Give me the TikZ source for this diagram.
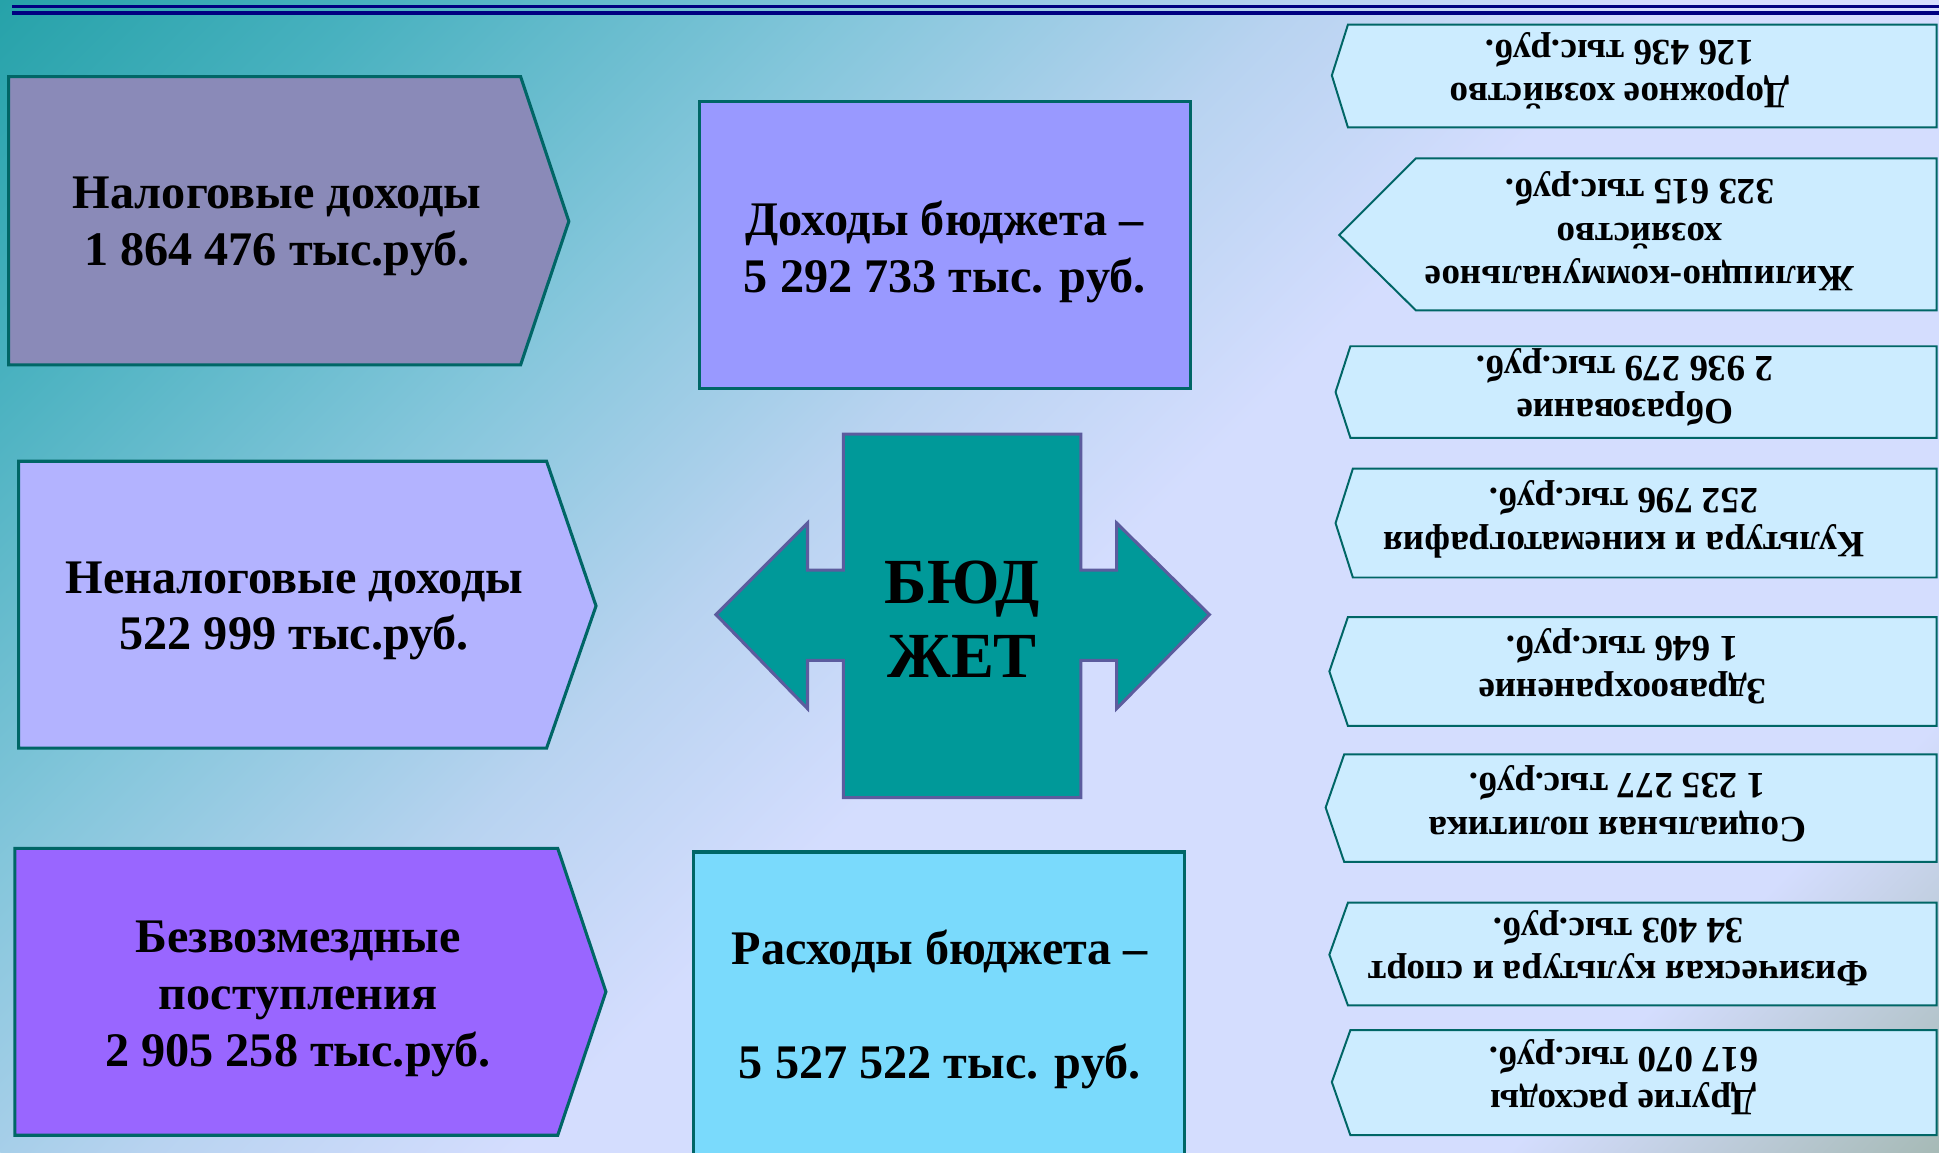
\documentclass[tikz,border=0pt]{standalone}
\usepackage{fontspec}
\setmainfont{Liberation Serif}
\usepackage{tikz}

\definecolor{bgteal}{HTML}{26A2A9}
\definecolor{bgA}{HTML}{48B1BF}
\definecolor{bgB}{HTML}{84C6DB}
\definecolor{bgC}{HTML}{B8D3F0}
\definecolor{bglav}{HTML}{D4DDFE}
\definecolor{bggray}{HTML}{A6BAB6}
\definecolor{navyline}{HTML}{000080}
\definecolor{edgeteal}{HTML}{006666}
\definecolor{taxfill}{HTML}{8A8AB8}
\definecolor{nontaxfill}{HTML}{B3B3FF}
\definecolor{grantfill}{HTML}{9966FF}
\definecolor{incomefill}{HTML}{9999FF}
\definecolor{costfill}{HTML}{7ADAFC}
\definecolor{crossfill}{HTML}{009999}
\definecolor{crossline}{HTML}{5C5C9E}
\definecolor{rightfill}{HTML}{CCECFF}

\pgfdeclarehorizontalshading{bgshade}{100bp}{color(0bp)=(bgteal); color(25bp)=(bgteal);
  color(31bp)=(bgA); color(39bp)=(bgB); color(46bp)=(bgC); color(52bp)=(bglav);
  color(68bp)=(bglav); color(75bp)=(bggray); color(100bp)=(bggray)}

\begin{document}
\begin{tikzpicture}[x=1pt,y=-1pt,line join=miter,
    big text/.style={font=\bfseries\fontsize{39}{46}\selectfont,align=center},
    small text/.style={font=\bfseries\fontsize{30}{35}\selectfont,align=center,rotate=180},
    left box/.style={draw=edgeteal,line width=2.5pt},
    right box/.style={draw=edgeteal,line width=1.6pt,fill=rightfill}]

  \useasboundingbox (0,0) rectangle (1568,932);
  % background
  \begin{scope}
    \clip (0,0) rectangle (1568,932);
    \begin{scope}[transform canvas={rotate=-45}]
      \shade[shading=bgshade] (0,-1109) rectangle (1768,659);
    \end{scope}
  \end{scope}

  \draw[navyline,line width=2.5pt] (10,5) -- (1568,5);
  \draw[navyline,line width=3pt] (10,10.5) -- (1568,10.5);

  % revenues
  \draw[left box,fill=taxfill] (7,62) -- (421,62) -- (460,179) -- (421,295) -- (7,295) -- cycle;
  \node[big text] (tax) at (224,183) {Налоговые доходы\\1 864 476 тыс.руб.};

  \draw[left box,fill=nontaxfill] (15,373) -- (442,373) -- (482,490) -- (442,605) -- (15,605) -- cycle;
  \node[big text] (nontax) at (238,494) {Неналоговые доходы\\522 999 тыс.руб.};

  \draw[left box,fill=grantfill] (12,686) -- (451,686) -- (490,802) -- (451,918) -- (12,918) -- cycle;
  \node[big text] (grants) at (241,808) {Безвозмездные\\поступления\\2 905 258 тыс.руб.};

  \draw[left box,fill=incomefill] (566,82) rectangle (963,314);
  \node[big text] (income) at (764,204) {Доходы бюджета –\\5 292 733 тыс. руб.};

  \draw[left box,fill=costfill] (561,689) rectangle (958,945);
  \node[big text] (costs) at (760,816) {Расходы бюджета –\\[46pt]5 527 522 тыс. руб.};

  % budget
  \draw[crossline,line width=2.5pt,fill=crossfill] (682,351) -- (874,351) -- (874,461) -- (903,461)
    -- (903,423) -- (978,497) -- (903,573) -- (903,534) -- (874,534) -- (874,645) -- (682,645)
    -- (682,534) -- (653,534) -- (653,573) -- (579,497) -- (653,423) -- (653,461) -- (682,461) -- cycle;
  \node[font=\bfseries\fontsize{52}{60}\selectfont,align=center] (budget) at (778,501) {БЮД\\ЖЕТ};

  % expenses
  \draw[right box] (1566,20) -- (1090,20) -- (1077,61) -- (1090,103) -- (1566,103) -- cycle;
  \node[small text] (roads) at (1310,57) {Дорожное хозяйство\\126 436 тыс.руб.};

  \draw[right box] (1566,128) -- (1145,128) -- (1083,190) -- (1145,251) -- (1566,251) -- cycle;
  \node[small text] (housing) at (1326,187) {Жилищно-коммунальное\\хозяйство\\323 615 тыс.руб.};

  \draw[right box] (1566,280) -- (1092,280) -- (1080,317) -- (1092,354) -- (1566,354) -- cycle;
  \node[small text] (school) at (1314,313) {Образование\\2 936 279 тыс.руб.};

  \draw[right box] (1566,379) -- (1094,379) -- (1080,423) -- (1094,467) -- (1566,467) -- cycle;
  \node[small text] (culture) at (1313,420) {Культура и кинематография\\252 796 тыс.руб.};

  \draw[right box] (1566,499) -- (1090,499) -- (1075,543) -- (1090,587) -- (1566,587) -- cycle;
  \node[small text] (health) at (1312,539) {Здравоохранение\\1 646 тыс.руб.};

  \draw[right box] (1566,610) -- (1087,610) -- (1072,653) -- (1087,697) -- (1566,697) -- cycle;
  \node[small text] (social) at (1308,650) {Социальная политика\\1 235 277 тыс.руб.};

  \draw[right box] (1566,730) -- (1090,730) -- (1075,772) -- (1090,813) -- (1566,813) -- cycle;
  \node[small text] (sport) at (1309,767) {Физическая культура и спорт\\34 403 тыс.руб.};

  \draw[right box] (1566,833) -- (1092,833) -- (1077,875) -- (1092,918) -- (1566,918) -- cycle;
  \node[small text] (other) at (1313,871) {Другие расходы\\617 070 тыс.руб.};
\end{tikzpicture}
\end{document}
